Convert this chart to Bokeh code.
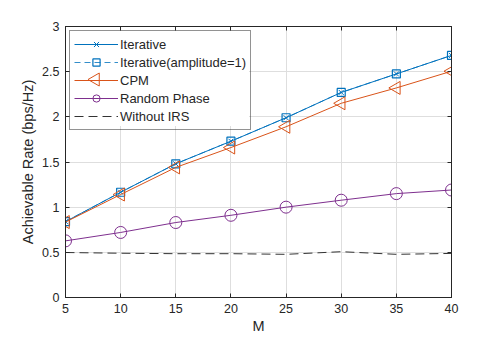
import numpy as np
from bokeh.plotting import figure
from bokeh.models import LinearAxis, Range1d, Legend, LegendItem, FixedTicker, ColumnDataSource
from bokeh.embed import file_html
from bokeh.resources import INLINE

M = [5, 10, 15, 20, 25, 30, 35, 40]
iterative = [0.84, 1.165, 1.48, 1.73, 1.99, 2.27, 2.475, 2.68]
iterative_amp1 = [0.84, 1.165, 1.48, 1.73, 1.99, 2.27, 2.475, 2.68]
cpm = [0.835, 1.14, 1.44, 1.66, 1.89, 2.15, 2.32, 2.505]
random_phase = [0.627, 0.72, 0.83, 0.91, 1.0, 1.077, 1.15, 1.19]
without_irs = [0.498, 0.49, 0.485, 0.485, 0.478, 0.507, 0.478, 0.488]

x_ticks = [5, 10, 15, 20, 25, 30, 35, 40]
y_ticks = [0, 0.5, 1, 1.5, 2, 2.5, 3]

FONT = "Liberation Sans"
AX = "#262626"
BLUE = "#0072BD"
ORANGE = "#D95319"
PURPLE = "#7E2F8E"

p = figure(width=498, height=343, output_backend="svg", toolbar_location=None,
           x_range=Range1d(5, 40), y_range=Range1d(0, 3),
           min_border_left=65, min_border_right=47, min_border_top=26, min_border_bottom=46)
p.outline_line_color = AX
p.outline_line_width = 1
p.background_fill_color = "white"
p.border_fill_color = "white"

for ax in [p.xaxis[0], p.yaxis[0]]:
    ax.axis_line_color = AX
    ax.major_tick_line_color = AX
    ax.major_tick_in = 4
    ax.major_tick_out = 0
    ax.minor_tick_line_color = None
    ax.major_label_text_font = FONT
    ax.major_label_text_font_size = "12.5px"
    ax.major_label_text_color = AX
    ax.axis_label_text_font = FONT
    ax.axis_label_text_font_size = "14.5px"
    ax.axis_label_text_font_style = "normal"
    ax.axis_label_text_color = AX

p.xaxis[0].ticker = FixedTicker(ticks=x_ticks)
p.yaxis[0].ticker = FixedTicker(ticks=y_ticks)
p.yaxis[0].major_label_overrides = {0: "0", 1: "1", 2: "2", 3: "3"}
p.xaxis[0].axis_label = "M"
p.yaxis[0].axis_label = "Achievable Rate (bps/Hz)"
p.xaxis[0].major_label_standoff = 6
p.yaxis[0].major_label_standoff = 6
p.xaxis[0].axis_label_standoff = 2
p.yaxis[0].axis_label_standoff = 3

for loc, tk in [("right", y_ticks), ("above", x_ticks)]:
    a = LinearAxis(ticker=FixedTicker(ticks=tk))
    a.axis_line_color = AX
    a.major_tick_line_color = AX
    a.major_tick_in = 4
    a.major_tick_out = 0
    a.minor_tick_line_color = None
    a.major_label_text_font_size = "0px"
    a.major_label_text_alpha = 0
    p.add_layout(a, loc)

p.xgrid.ticker = FixedTicker(ticks=x_ticks)
p.ygrid.ticker = FixedTicker(ticks=y_ticks)
p.xgrid.grid_line_color = "#dedede"
p.ygrid.grid_line_color = "#dedede"

cpm_src = ColumnDataSource(dict(x=M, y=cpm, ang=[np.pi / 2] * len(M)))

r1l = p.line(M, iterative, line_color=BLUE, line_width=1)
r1m = p.scatter(M, iterative, marker="x", size=7, line_color=BLUE, line_width=1)
r2l = p.line(M, iterative_amp1, line_color=BLUE, line_width=1, line_dash="6 4", line_alpha=0.8)
r2m = p.scatter(M, iterative_amp1, marker="square", size=8, line_color=BLUE, fill_color=None, line_width=1.2)
r3l = p.line(M, cpm, line_color=ORANGE, line_width=1)
r3m = p.scatter("x", "y", source=cpm_src, marker="triangle", angle="ang", size=13,
                line_color=ORANGE, fill_color=None, line_width=1)
r4l = p.line(M, random_phase, line_color=PURPLE, line_width=1)
r4m = p.scatter(M, random_phase, marker="circle", size=12, line_color=PURPLE, fill_color=None, line_width=1)
r5l = p.line(M, without_irs, line_color="#333333", line_width=1, line_dash="9 5")

# white backing for the (transparent) legend, then the left-pointing CPM
# legend symbol on top of it (legend glyphs ignore a marker's angle)
p.quad(left=[5.40], right=[21.64], top=[2.950], bottom=[1.898],
       fill_color="white", fill_alpha=1, line_color=None)
leg_tri = ColumnDataSource(dict(x=[7.72], y=[2.413], ang=[np.pi / 2]))
p.scatter("x", "y", source=leg_tri, marker="triangle", angle="ang", size=13,
          line_color=ORANGE, fill_color="white", line_width=1)

legend = Legend(items=[
    LegendItem(label="Iterative", renderers=[r1l, r1m]),
    LegendItem(label="Iterative(amplitude=1)", renderers=[r2l, r2m]),
    LegendItem(label="CPM", renderers=[r3l]),
    LegendItem(label="Random Phase", renderers=[r4l, r4m]),
    LegendItem(label="Without IRS", renderers=[r5l]),
], location="top_left")
legend.margin = 4
legend.padding = 4
legend.spacing = 0
legend.glyph_width = 44
legend.glyph_height = 18
legend.label_height = 18
legend.label_standoff = 2
legend.label_text_font = FONT
legend.label_text_font_size = "13px"
legend.label_text_color = AX
legend.border_line_color = AX
legend.border_line_width = 1
legend.background_fill_alpha = 0
p.add_layout(legend, "center")

open("out.html", "w").write(file_html(p, INLINE))
